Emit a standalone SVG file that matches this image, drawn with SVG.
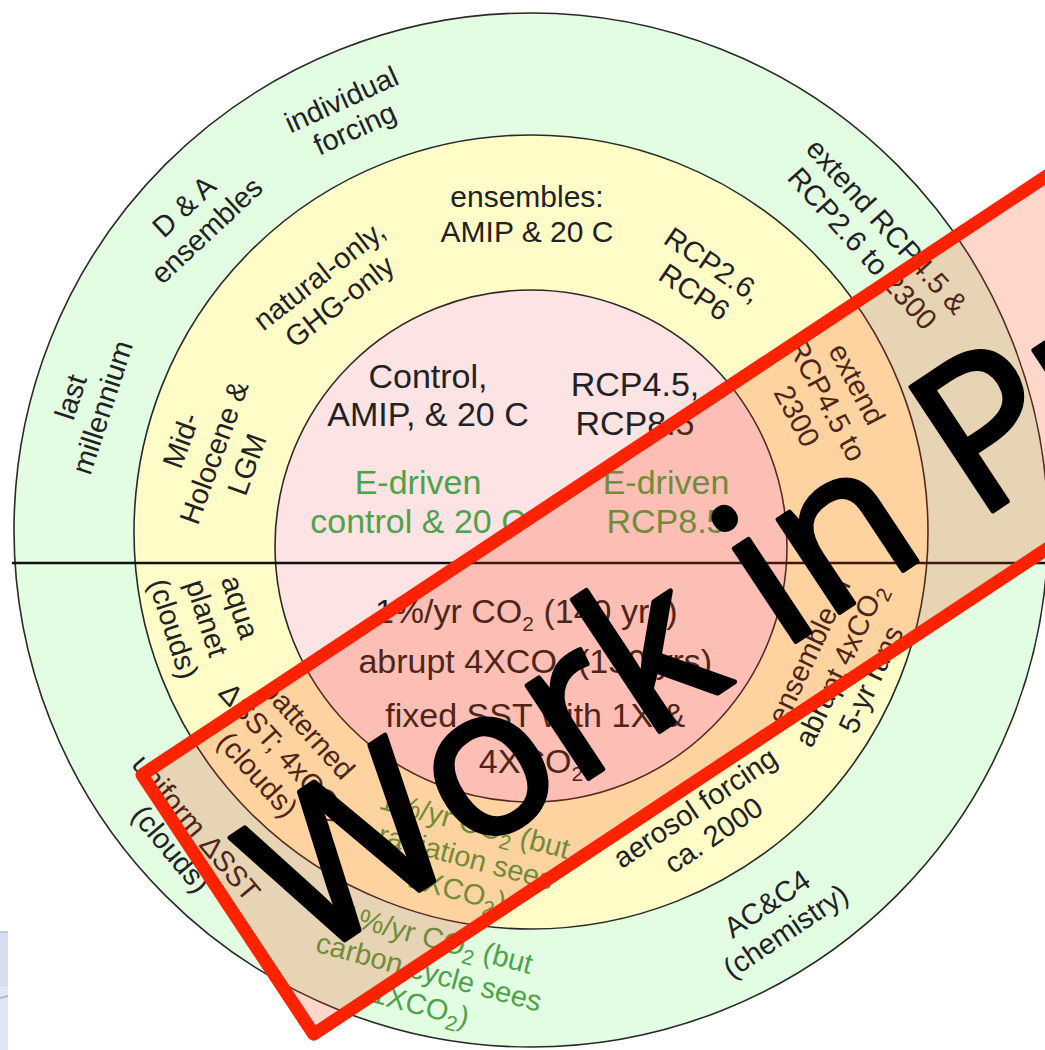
<svg xmlns="http://www.w3.org/2000/svg" width="1045" height="1050" viewBox="0 0 1045 1050">
<style>
.ring{stroke:#2a2a2a;stroke-width:1.6}
.t{font-family:"Liberation Sans",Arial,sans-serif;font-size:29px;fill:#222;text-anchor:middle}
.c{font-family:"Liberation Sans",Arial,sans-serif;font-size:34px;fill:#222;text-anchor:middle}
.g{fill:#4ea24a}
.sub{font-size:21px}
.wip{font-family:"Open Sans","DejaVu Sans",sans-serif;font-size:208px;fill:#000;stroke:#000;stroke-width:5;stroke-linejoin:round}
</style>
<rect width="1045" height="1050" fill="#ffffff"/>
<g id="side-panel">
<rect x="0" y="931" width="8" height="119" fill="#e1e6f5"/>
<rect x="0" y="933" width="8" height="53" fill="#d7ddf1"/>
<line x1="0" y1="932" x2="8" y2="932" stroke="#b0bae4" stroke-width="1.5"/>
<line x1="0" y1="998" x2="8" y2="996" stroke="#9eabe0" stroke-width="1.5"/>
</g>
<g id="ring-outer"><circle class="ring" cx="531" cy="530" r="517" fill="#e2fde2"/></g>
<g id="ring-middle"><circle class="ring" cx="531" cy="532" r="397" fill="#fffcc8"/></g>
<g id="core"><circle class="ring" cx="531" cy="546" r="256" fill="#fde3e3"/></g>
<g id="connectors"><line x1="12" y1="563" x2="1045" y2="563" stroke="#111" stroke-width="2.6"/></g>

<g id="lbl-individual"><text class="t" transform="translate(348,114) rotate(-24.5)"><tspan x="0" y="-6">individual</tspan><tspan x="0" dy="32">forcing</tspan></text></g>
<g id="lbl-da"><text class="t" transform="translate(195,218) rotate(-43)"><tspan x="0" y="-6">D &amp; A</tspan><tspan x="0" dy="33">ensembles</tspan></text></g>
<g id="lbl-lastmill"><text class="t" transform="translate(86,402) rotate(-72)"><tspan x="0" y="-6">last</tspan><tspan x="0" dy="33">millennium</tspan></text></g>
<g id="lbl-ensembles"><text class="t" style="font-size:30px"><tspan x="527" y="207">ensembles:</tspan><tspan x="527" y="242">AMIP &amp; 20 C</tspan></text></g>
<g id="lbl-natural"><text class="t" transform="translate(329,288) rotate(-38)"><tspan x="0" y="-6">natural-only,</tspan><tspan x="0" dy="33">GHG-only</tspan></text></g>
<g id="lbl-rcp26"><text class="t" transform="translate(704,278) rotate(34)"><tspan x="0" y="-6">RCP2.6,</tspan><tspan x="0" dy="33">RCP6</tspan></text></g>
<g id="lbl-extend-outer"><text class="t" transform="translate(875,237) rotate(48)"><tspan x="0" y="-6">extend RCP4.5 &amp;</tspan><tspan x="0" dy="33">RCP2.6 to 2300</tspan></text></g>
<g id="lbl-midholo"><text class="t" transform="translate(213,452) rotate(-70)"><tspan x="0" y="-24">Mid-</tspan><tspan x="0" dy="35">Holocene &amp;</tspan><tspan x="0" dy="35">LGM</tspan></text></g>
<g id="lbl-extend-mid"><text class="t" transform="translate(827,400) rotate(62)"><tspan x="0" y="-24">extend</tspan><tspan x="0" dy="34">RCP4.5 to</tspan><tspan x="0" dy="34">2300</tspan></text></g>

<g id="lbl-control"><text class="c"><tspan x="428" y="388">Control,</tspan><tspan x="428" y="426">AMIP, &amp; 20 C</tspan></text></g>
<g id="lbl-rcp45"><text class="c"><tspan x="635" y="396">RCP4.5,</tspan><tspan x="635" y="435">RCP8.5</tspan></text></g>
<g id="lbl-edriven-ctl"><text class="c g"><tspan x="418" y="494">E-driven</tspan><tspan x="418" y="533">control &amp; 20 C</tspan></text></g>
<g id="lbl-edriven-rcp"><text class="c g"><tspan x="666" y="494">E-driven</tspan><tspan x="666" y="533">RCP8.5</tspan></text></g>

<g id="lbl-core-low"><text class="c">
<tspan x="531" y="623">1%/yr CO<tspan class="sub" dy="8">2</tspan><tspan dy="-8"> (140 yrs)</tspan></tspan>
<tspan x="540" y="673">abrupt 4XCO<tspan class="sub" dy="8">2</tspan><tspan dy="-8"> (150 yrs)</tspan></tspan>
<tspan x="540" y="727">fixed SST with 1X &amp;</tspan>
<tspan x="531" y="773">4XCO<tspan class="sub" dy="8">2</tspan></tspan>
</text></g>

<g id="lbl-aqua"><text class="t" transform="translate(207,618) rotate(72)"><tspan x="0" y="-25">aqua</tspan><tspan x="0" dy="35">planet</tspan><tspan x="0" dy="35">(clouds)</tspan></text></g>
<g id="lbl-patterned"><text class="t" transform="translate(283,752) rotate(48)"><tspan x="0" y="-24">patterned</tspan><tspan x="0" dy="34">ΔSST; 4xCO<tspan class="sub" dy="7">2</tspan></tspan><tspan x="0" dy="27">(clouds)</tspan></text></g>
<g id="lbl-uniform"><text class="t" transform="translate(184,838) rotate(50)"><tspan x="0" y="-6">uniform ΔSST</tspan><tspan x="0" dy="33">(clouds)</tspan></text></g>
<g id="lbl-radiation"><text class="t g" transform="translate(466,857) rotate(15)"><tspan x="0" y="-24">1%/yr CO<tspan class="sub" dy="7">2</tspan><tspan dy="-7"> (but</tspan></tspan><tspan x="0" dy="34">radiation sees</tspan><tspan x="0" dy="34">1XCO<tspan class="sub" dy="7">2</tspan><tspan dy="-7">)</tspan></tspan></text></g>
<g id="lbl-carbon"><text class="t g" transform="translate(429,972) rotate(15)"><tspan x="0" y="-24">1%/yr CO<tspan class="sub" dy="7">2</tspan><tspan dy="-7"> (but</tspan></tspan><tspan x="0" dy="34">carbon cycle sees</tspan><tspan x="0" dy="34">1XCO<tspan class="sub" dy="7">2</tspan><tspan dy="-7">)</tspan></tspan></text></g>
<g id="lbl-aerosol"><text class="t" transform="translate(704,821) rotate(-34)"><tspan x="0" y="-6">aerosol forcing</tspan><tspan x="0" dy="33">ca. 2000</tspan></text></g>
<g id="lbl-ensemble-abrupt"><text class="t" transform="translate(840,665) rotate(-65)"><tspan x="0" y="-24">ensemble of</tspan><tspan x="0" dy="34">abrupt 4xCO<tspan class="sub" dy="7">2</tspan></tspan><tspan x="0" dy="27">5-yr runs</tspan></text></g>
<g id="lbl-acc4"><text class="t" transform="translate(776,917) rotate(-34)"><tspan x="0" y="-6">AC&amp;C4</tspan><tspan x="0" dy="33">(chemistry)</tspan></text></g>

<g id="wip-banner" transform="translate(133,773) rotate(-33.5)">
<rect x="6.5" y="6.5" width="1500" height="311" fill="#ff3300" fill-opacity="0.2" stroke="#ff2200" stroke-width="13" stroke-linejoin="round"/>
<text class="wip" x="42" y="256">Work in Progress</text>
</g>
</svg>
